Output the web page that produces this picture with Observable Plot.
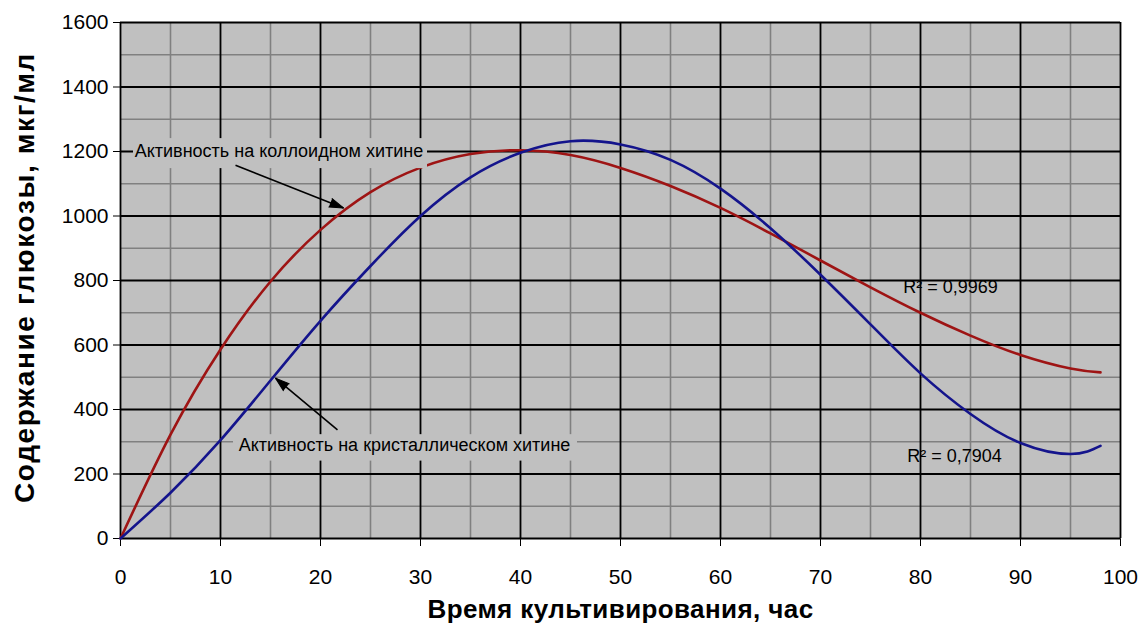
<!DOCTYPE html>
<html><head><meta charset="utf-8">
<script src="https://cdn.jsdelivr.net/npm/d3@7"></script>
<script src="https://cdn.jsdelivr.net/npm/@observablehq/plot@0.6"></script>
<style>html,body{margin:0;padding:0;background:#fff;}</style>
</head><body><div id="chart"></div>
<script>
const hours   = [0, 5, 10, 15, 20, 25, 30, 35, 40, 45, 50, 55, 60, 65, 70, 75, 80, 85, 90, 95, 98];
const colloid = [0, 322, 586, 797, 957, 1074, 1150, 1192, 1204, 1189, 1149, 1093, 1025, 946, 862, 779, 700, 629, 569, 527, 515];
const crystal = [0, 142, 305, 490, 675, 845, 1000, 1120, 1196, 1232, 1222, 1174, 1085, 962, 818, 664, 512, 386, 296, 262, 287];

const xTicks = [0, 10, 20, 30, 40, 50, 60, 70, 80, 90, 100];
const xMinor = [5, 15, 25, 35, 45, 55, 65, 75, 85, 95];
const yTicks = [0, 200, 400, 600, 800, 1000, 1200, 1400, 1600];
const yMinor = [100, 300, 500, 700, 900, 1100, 1300, 1500];

const xTitle = "Время культивирования, час";
const yTitle = "Содержание глюкозы, мкг/мл";

const boxLabels = [
  {text: "Активность на коллоидном хитине", x: 15.85, y: 1200, x1: 1.3, x2: 30.7, y1: 1147, y2: 1240},
  {text: "Активность на кристаллическом хитине", x: 28.4, y: 290, x1: 11.3, x2: 45.7, y1: 240, y2: 322}
];
const arrows = [
  {x1: 11.5, y1: 1157, x2: 22.3, y2: 1025},
  {x1: 21.7, y1: 337, x2: 15.5, y2: 497}
];
const r2Labels = [
  {text: "R² = 0,9969", x: 83, y: 778},
  {text: "R² = 0,7904", x: 83.4, y: 254}
];

const W = 1140, H = 630, ML = 120, MR = 20, MT = 22, MB = 92;
const xDomain = [0, 100], yDomain = [0, 1600];
const kx = (W - ML - MR) / (xDomain[1] - xDomain[0]);
const ky = (H - MT - MB) / (yDomain[1] - yDomain[0]);
const heads = arrows.map(a => ({
  x: a.x2, y: a.y2,
  angle: Math.atan2((a.x2 - a.x1) * kx, (a.y2 - a.y1) * ky) * 180 / Math.PI
}));

const table = hours.map((h, i) => ({h, colloid: colloid[i], crystal: crystal[i]}));
const font = "Arial, 'Liberation Sans', sans-serif";

const chart = Plot.plot({
  width: W, height: H,
  marginLeft: ML, marginRight: MR, marginTop: MT, marginBottom: MB,
  style: {fontFamily: font, fontSize: "21px", background: "#fff", color: "#000", overflow: "visible"},
  x: {domain: xDomain, ticks: xTicks, tickSize: 8, tickPadding: 23, tickFormat: d3.format("d"), label: null},
  y: {domain: yDomain, ticks: yTicks, tickSize: 7, tickPadding: 5, tickFormat: d3.format("d"), label: null},
  marks: [
    Plot.frame({fill: "#c0c0c0", stroke: null}),
    Plot.ruleX(xMinor, {stroke: "#808080", strokeWidth: 1.6}),
    Plot.ruleY(yMinor, {stroke: "#808080", strokeWidth: 1.6}),
    Plot.ruleX(xTicks, {stroke: "#000", strokeWidth: 1.8}),
    Plot.ruleY(yTicks, {stroke: "#000", strokeWidth: 1.8}),
    Plot.line(table, {x: "h", y: "colloid", stroke: "#9e1414", strokeWidth: 2.6, curve: "natural"}),
    Plot.line(table, {x: "h", y: "crystal", stroke: "#14148c", strokeWidth: 2.6, curve: "natural"}),
    Plot.rect(boxLabels, {x1: "x1", x2: "x2", y1: "y1", y2: "y2", fill: "#c0c0c0"}),
    Plot.text(boxLabels, {x: "x", y: "y", text: "text", fontSize: 18, fill: "#000"}),
    Plot.text(r2Labels, {x: "x", y: "y", text: "text", fontSize: 18, fill: "#000"}),
    Plot.link(arrows, {x1: "x1", y1: "y1", x2: "x2", y2: "y2", stroke: "#000", strokeWidth: 1.6}),
    Plot.vector(heads, {x: "x", y: "y", rotate: "angle", length: 14, r: 4.5, shape: "spike", anchor: "end", fill: "#000", stroke: "#000", strokeWidth: 1}),
    Plot.text([xTitle], {text: d => d, frameAnchor: "bottom", lineAnchor: "middle", dy: 71, fontSize: 26, fontWeight: "bold"}),
    Plot.text([yTitle], {text: d => d, frameAnchor: "left", textAnchor: "middle", lineAnchor: "middle", dx: -95, dy: -3, rotate: -90, fontSize: 28, fontWeight: "bold"})
  ]
});
d3.select(chart).selectAll("text")
  .filter(function() { return this.textContent === yTitle; })
  .style("letter-spacing", "1.6px");
d3.select(chart).selectAll("text")
  .filter(function() { return this.textContent === xTitle; })
  .style("letter-spacing", "0.4px");
document.getElementById("chart").appendChild(chart);
</script>
</body></html>
